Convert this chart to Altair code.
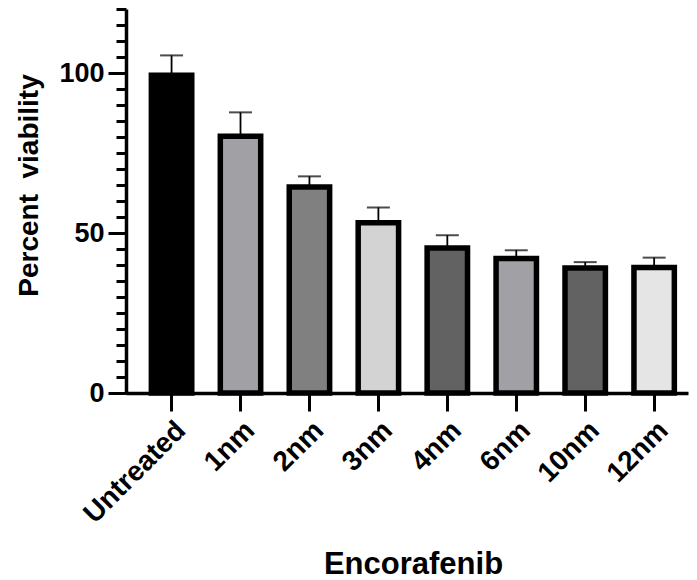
import altair as alt
import pandas as pd

categories = ["Untreated", "1nm", "2nm", "3nm", "4nm", "6nm", "10nm", "12nm"]
means = [99.3, 80.2, 64.4, 53.2, 45.3, 42.0, 39.1, 39.2]
upper = [105.5, 87.7, 67.7, 58.0, 49.3, 44.6, 40.9, 42.3]
fills = ["#000000", "#a1a1a5", "#808080", "#d3d3d3", "#626262", "#a1a1a5", "#626262", "#e5e5e5"]
y_major_ticks = [0, 50, 100]
y_minor_ticks = list(range(0, 125, 5))

df = pd.DataFrame({"cat": categories, "mean": means, "upper": upper, "fill": fills})

FONT = "Liberation Sans"

x_axis = alt.Axis(
    title="Encorafenib",
    titleFont=FONT, titleFontSize=31, titleFontWeight="bold", titleColor="black",
    titleX=287, titleY=180, titleBaseline="alphabetic",
    labelAngle=-45, labelFont=FONT, labelFontSize=28, labelFontWeight="bold",
    labelColor="black", labelPadding=5,
    tickSize=18, tickWidth=3, tickColor="black",
    domainWidth=3.5, domainColor="black", grid=False,
)
x_scale = alt.Scale(paddingInner=0.414, paddingOuter=0.283, align=0.65)

y_scale = alt.Scale(domain=[0, 120], nice=False, zero=True)

y_axis_major = alt.Axis(
    orient="left",
    title="Percent\u00a0 viability",
    titleFont=FONT, titleFontSize=28, titleFontWeight="bold", titleColor="black",
    titleX=-89, titleY=176, titleBaseline="alphabetic", titleAngle=270,
    values=y_major_ticks,
    labelFont=FONT, labelFontSize=27, labelFontWeight="bold", labelColor="black",
    labelPadding=4,
    tickSize=18, tickWidth=3, tickColor="black",
    domainWidth=3.5, domainColor="black", grid=False,
)

y_axis_minor = alt.Axis(
    orient="left",
    title=None,
    values=y_minor_ticks,
    labels=False,
    domain=False,
    tickSize=10, tickWidth=3, tickColor="black",
    grid=False,
)

base = alt.Chart(df)

bars = base.mark_bar(stroke="black", strokeWidth=5.5, strokeJoin="miter").encode(
    x=alt.X("cat:N", sort=categories, scale=x_scale, axis=x_axis),
    y=alt.Y("mean:Q", scale=y_scale, axis=y_axis_major),
    color=alt.Color("fill:N", scale=None),
)

err = base.mark_rule(color="black", strokeWidth=1.8).encode(
    x=alt.X("cat:N", sort=categories, scale=x_scale, axis=x_axis),
    y=alt.Y("mean:Q", scale=y_scale, axis=y_axis_minor),
    y2="upper:Q",
)

cap = base.mark_tick(color="black", orient="horizontal", size=23, thickness=2).encode(
    x=alt.X("cat:N", sort=categories, scale=x_scale, axis=x_axis),
    y=alt.Y("upper:Q", scale=y_scale, axis=y_axis_minor),
)

chart = (
    alt.layer(err + cap, bars)
    .resolve_axis(y="independent")
    .resolve_scale(y="shared")
    .properties(
        width=562, height=384,
        autosize=alt.AutoSizeParams(type="none"),
        padding={"left": 126, "top": 9, "right": 9, "bottom": 187},
        background="white",
    )
    .configure_view(stroke=None)
)

chart.save("out.html", embed_options={"renderer": "svg", "actions": False})
